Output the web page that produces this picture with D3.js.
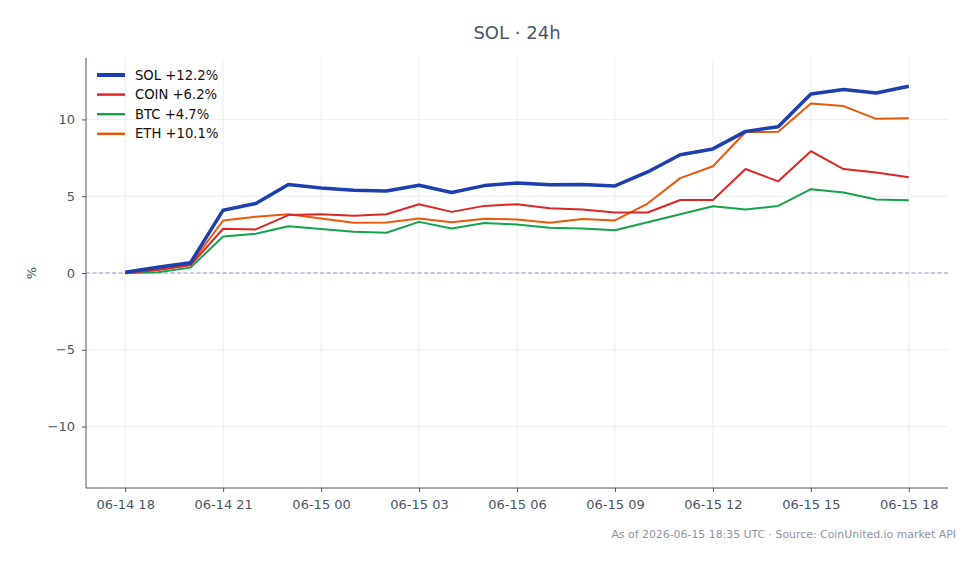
<!DOCTYPE html>
<html>
<head>
<meta charset="utf-8">
<script src="https://cdn.jsdelivr.net/npm/d3@7.9.0/dist/d3.min.js"></script>
<style>
  html, body { margin: 0; padding: 0; background: #fff; }
  svg { display: block; font-family: "DejaVu Sans", sans-serif; }
</style>
</head>
<body>
<div id="chart"></div>
<script>
// ---- data ----
const startTime = new Date(2026, 5, 14, 18); // 06-14 18:00
const hoursCount = 25;

const solValues  = [0.05, 0.37, 0.67, 4.09, 4.52, 5.76, 5.54, 5.39, 5.34, 5.71, 5.24, 5.69, 5.86, 5.74, 5.76, 5.67, 6.58, 7.7, 8.08, 9.22, 9.52, 11.65, 11.95, 11.72, 12.16];
const coinValues = [0.0, 0.19, 0.5, 2.88, 2.84, 3.77, 3.83, 3.72, 3.83, 4.48, 3.98, 4.37, 4.48, 4.22, 4.13, 3.94, 3.94, 4.75, 4.76, 6.77, 5.97, 7.93, 6.77, 6.54, 6.23];
const btcValues  = [0.0, 0.05, 0.35, 2.38, 2.55, 3.05, 2.86, 2.68, 2.62, 3.33, 2.9, 3.25, 3.16, 2.94, 2.9, 2.79, 3.3, 3.82, 4.35, 4.14, 4.37, 5.46, 5.24, 4.78, 4.74];
const ethValues  = [-0.03, 0.26, 0.56, 3.42, 3.66, 3.83, 3.55, 3.27, 3.29, 3.55, 3.31, 3.53, 3.49, 3.27, 3.51, 3.42, 4.52, 6.18, 6.95, 9.18, 9.19, 11.03, 10.87, 10.04, 10.07];

const seriesNames  = ['SOL', 'COIN', 'BTC', 'ETH'];
const seriesLabels = ['SOL +12.2%', 'COIN +6.2%', 'BTC +4.7%', 'ETH +10.1%'];
const seriesColors = ['#1e40af', '#dc2626', '#16a34a', '#ea580c'];
const seriesWidths = [3.5, 2, 2, 2];
const yTicks = [-10, -5, 0, 5, 10];

const times = d3.range(hoursCount).map(i => d3.timeHour.offset(startTime, i));
const seriesValues = [solValues, coinValues, btcValues, ethValues];

// ---- layout ----
const width = 979;
const height = 564;
const margin = { top: 58, right: 31, bottom: 76, left: 86 };
const plot = {
  left: margin.left,
  right: width - margin.right,
  top: margin.top,
  bottom: height - margin.bottom
};

const svg = d3.select('#chart')
  .append('svg')
  .attr('width', width)
  .attr('height', height);

// ---- scales ----
const span = times[times.length - 1] - times[0];
const xScale = d3.scaleTime()
  .domain([new Date(+times[0] - span * 0.05), new Date(+times[times.length - 1] + span * 0.05)])
  .range([plot.left, plot.right]);

const yScale = d3.scaleLinear()
  .domain([-14, 14])
  .range([plot.bottom, plot.top]);

const xTicks = d3.range(0, hoursCount, 3).map(i => times[i]);
const fmtTime = d3.timeFormat('%m-%d %H');

// ---- grid ----
const grid = svg.append('g').attr('class', 'grid');
grid.selectAll('line.v')
  .data(xTicks)
  .join('line')
  .attr('class', 'v')
  .attr('x1', d => xScale(d)).attr('x2', d => xScale(d))
  .attr('y1', plot.top).attr('y2', plot.bottom)
  .attr('stroke', '#e6e9ef').attr('stroke-width', 0.8);
grid.selectAll('line.h')
  .data(yTicks)
  .join('line')
  .attr('class', 'h')
  .attr('x1', plot.left).attr('x2', plot.right)
  .attr('y1', d => yScale(d)).attr('y2', d => yScale(d))
  .attr('stroke', '#e6e9ef').attr('stroke-width', 0.8);

// zero line
svg.append('line')
  .attr('x1', plot.left).attr('x2', plot.right)
  .attr('y1', yScale(0)).attr('y2', yScale(0))
  .attr('stroke', '#8a9bb8')
  .attr('stroke-width', 1)
  .attr('stroke-dasharray', '4,2.5');

// ---- axes ----
const axisColor = '#4a5568';

const xAxis = svg.append('g')
  .attr('transform', `translate(0,${plot.bottom})`)
  .call(d3.axisBottom(xScale).tickValues(xTicks).tickFormat(fmtTime).tickSize(4).tickPadding(8));

const yAxis = svg.append('g')
  .attr('transform', `translate(${plot.left},0)`)
  .call(d3.axisLeft(yScale).tickValues(yTicks).tickFormat(d => d < 0 ? '\u2212' + Math.abs(d) : d).tickSize(4).tickPadding(7));

[xAxis, yAxis].forEach(ax => {
  ax.selectAll('.domain').attr('stroke', axisColor).attr('stroke-width', 1);
  ax.selectAll('.tick line').attr('stroke', axisColor);
  ax.selectAll('.tick text')
    .attr('fill', axisColor)
    .style('font-size', '13px')
    .style('font-family', '"DejaVu Sans", sans-serif');
});
// keep the domain to the plot extent (no outer ticks beyond)
xAxis.select('.domain').attr('d', `M${plot.left},0H${plot.right}`);
yAxis.select('.domain').attr('d', `M0,${plot.bottom}V${plot.top}`);

// y label
svg.append('text')
  .attr('transform', `translate(36,${yScale(0)}) rotate(-90)`)
  .attr('text-anchor', 'middle')
  .attr('fill', axisColor)
  .style('font-size', '13px')
  .text('%');

// ---- lines ----
const line = d3.line()
  .x((d, i) => xScale(times[i]))
  .y(d => yScale(d));

const lines = svg.append('g').attr('class', 'lines');
// draw thinner series first, SOL on top
const drawOrder = [3, 2, 1, 0];
drawOrder.forEach(k => {
  lines.append('path')
    .datum(seriesValues[k])
    .attr('d', line)
    .attr('fill', 'none')
    .attr('stroke', seriesColors[k])
    .attr('stroke-width', seriesWidths[k])
    .attr('stroke-linejoin', 'round');
});

// ---- legend ----
const legend = svg.append('g').attr('transform', `translate(97,75)`);
seriesNames.forEach((name, k) => {
  const row = legend.append('g').attr('transform', `translate(0,${k * 19.6})`);
  row.append('line')
    .attr('x1', 0).attr('x2', 28)
    .attr('y1', 0).attr('y2', 0)
    .attr('stroke', seriesColors[k])
    .attr('stroke-width', seriesWidths[k] + 0.5);
  row.append('text')
    .attr('x', 38).attr('y', 0)
    .attr('dy', '0.35em')
    .attr('fill', '#111')
    .style('font-size', '13.2px')
    .text(seriesLabels[k]);
});

// ---- title & footer ----
svg.append('text')
  .attr('x', (plot.left + plot.right) / 2)
  .attr('y', 39)
  .attr('text-anchor', 'middle')
  .attr('fill', '#4a5568')
  .style('font-size', '18px')
  .text('SOL \u00b7 24h');

svg.append('text')
  .attr('x', 956)
  .attr('y', 538)
  .attr('text-anchor', 'end')
  .attr('fill', '#8a94a6')
  .style('font-size', '10.9px')
  .text('As of 2026-06-15 18:35 UTC \u00b7 Source: CoinUnited.io market API');
</script>
</body>
</html>
